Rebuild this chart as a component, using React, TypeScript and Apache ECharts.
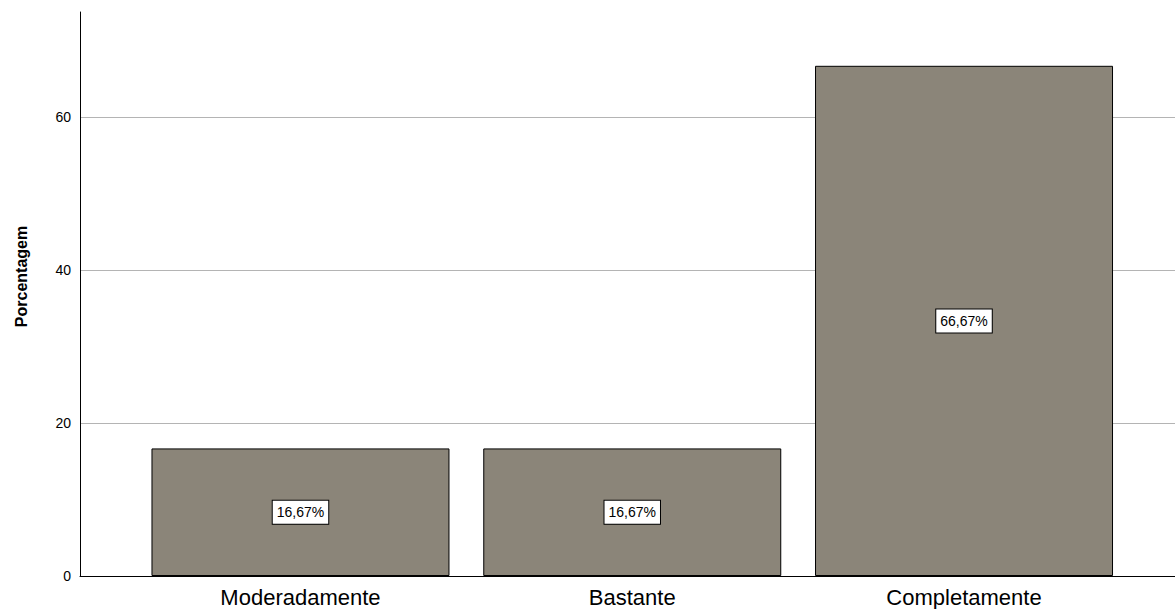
import React, { useEffect, useRef } from "react";
import * as echarts from "echarts";

const categories = ["Moderadamente", "Bastante", "Completamente"];
const percentages = [16.67, 16.67, 66.67];
const barLabels = ["16,67%", "16,67%", "66,67%"];
const yTicks = [0, 20, 40, 60];
const yMax = 73.7;

export default function App() {
  const ref = useRef<HTMLDivElement>(null);
  useEffect(() => {
    if (!ref.current) return;
    const chart = echarts.init(ref.current, undefined, { renderer: "svg" });
    const grey = "#b4b4b4";
    chart.setOption({
      animation: false,
      backgroundColor: "#ffffff",
      grid: [
        { left: 80, right: 0, top: 12, bottom: 33 },
        { left: 134.6, right: 45.1, top: 12, bottom: 33 },
      ],
      xAxis: [
        {
          type: "value",
          gridIndex: 0,
          min: 0,
          max: 1,
          axisLine: { show: true, onZero: false, lineStyle: { color: "#000", width: 1 } },
          axisTick: { show: false },
          axisLabel: { show: false },
          splitLine: { show: false },
        },
        {
          type: "category",
          gridIndex: 1,
          data: categories,
          boundaryGap: true,
          axisLine: { show: false },
          axisTick: { show: false },
          axisLabel: {
            margin: 10,
            fontSize: 22,
            fontFamily: "Arial, 'Liberation Sans', sans-serif",
            color: "#000",
          },
        },
      ],
      yAxis: [
        {
          type: "value",
          gridIndex: 0,
          min: 0,
          max: yMax,
          interval: 20,
          axisLine: { show: true, lineStyle: { color: "#000", width: 1 } },
          axisTick: { show: false },
          axisLabel: {
            showMaxLabel: false,
            margin: 9,
            fontSize: 14,
            fontFamily: "Arial, 'Liberation Sans', sans-serif",
            color: "#000",
            formatter: (v: number) => (yTicks.includes(v) ? String(v) : ""),
          },
          splitLine: {
            show: true,
            lineStyle: { color: [grey, grey, grey, grey, "rgba(0,0,0,0)"], width: 1 },
          },
        },
        {
          type: "value",
          gridIndex: 1,
          min: 0,
          max: yMax,
          show: false,
          splitLine: { show: false },
        },
      ],
      graphic: [
        {
          type: "text",
          x: 21,
          y: 276.5,
          rotation: Math.PI / 2,
          style: {
            text: "Porcentagem",
            font: "bold 16px Arial, 'Liberation Sans', sans-serif",
            fill: "#000",
            align: "center",
            verticalAlign: "middle",
          },
        },
      ],
      series: [
        {
          type: "bar",
          xAxisIndex: 1,
          yAxisIndex: 1,
          data: percentages,
          barWidth: 298,
          itemStyle: { color: "#8b8579", borderColor: "#000", borderWidth: 1 },
          label: {
            show: true,
            position: "inside",
            formatter: (p: any) => barLabels[p.dataIndex],
            color: "#000",
            fontSize: 14,
            fontFamily: "Arial, 'Liberation Sans', sans-serif",
            backgroundColor: "#fff",
            borderColor: "#000",
            borderWidth: 1,
            padding: [5, 4, 4, 4],
          },
        },
      ],
    });
    return () => chart.dispose();
  }, []);
  return <div ref={ref} style={{ width: 1175, height: 609, position: "absolute", left: 0, top: 0 }} />;
}
